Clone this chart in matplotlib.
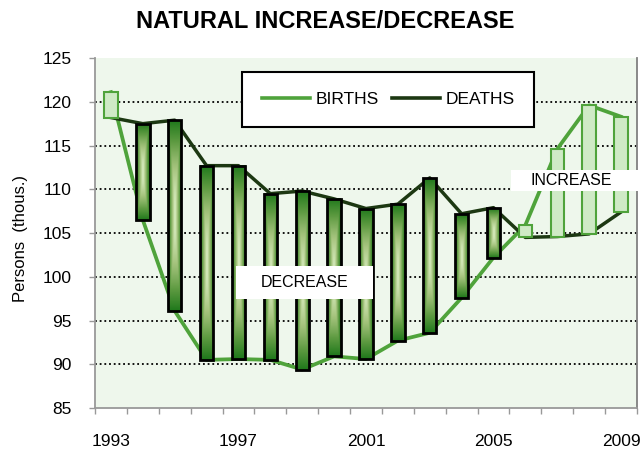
import numpy as np
import matplotlib.pyplot as plt
from matplotlib.colors import LinearSegmentedColormap
from matplotlib.patches import Rectangle
from matplotlib.lines import Line2D

plt.rcParams['font.family'] = ['Liberation Sans', 'DejaVu Sans']

years = list(range(1993, 2010))
births = [121.1, 106.5, 96.1, 90.5, 90.6, 90.5, 89.4, 90.9, 90.6,
          92.7, 93.6, 97.6, 102.2, 105.9, 114.6, 119.6, 118.3]
deaths = [118.2, 117.5, 117.9, 112.7, 112.7, 109.5, 109.8, 108.9, 107.8,
          108.3, 111.3, 107.2, 107.9, 104.5, 104.6, 104.9, 107.4]
year_labels = ["1993", "1997", "2001", "2005", "2009"]
yticks = [85, 90, 95, 100, 105, 110, 115, 120, 125]

birth_color = "#4fa33b"
death_color = "#1c3812"

x = np.arange(len(years))

fig = plt.figure(figsize=(6.44, 4.5), dpi=100)
ax = fig.add_axes([0.1475, 0.0933, 0.8415, 0.7777])
ax.set_facecolor("#eef7ec")

for v in yticks[1:-1]:
    ax.axhline(v, color="black", lw=1.3, ls=(0, (1, 1.6)), zorder=0.5)

ax.plot(x, births, color=birth_color, lw=2.7, solid_joinstyle="round", zorder=2)
ax.plot(x, deaths, color=death_color, lw=2.5, solid_joinstyle="round", zorder=2)

# gradient for decrease bars: dark at the edges, light in the centre
cmap = LinearSegmentedColormap.from_list(
    "dec", ["#d8ecbf", "#a6c47e", "#5f9b42", "#1f781b"])
gx = np.linspace(-1, 1, 40)
gy = np.linspace(-1, 1, 200)
GX, GY = np.meshgrid(gx, gy)
grad = np.clip(np.maximum(np.abs(GX), np.abs(GY) ** 1.5), 0, 1)

w = 0.42
for i in x:
    lo, hi = min(births[i], deaths[i]), max(births[i], deaths[i])
    if births[i] < deaths[i]:
        ax.imshow(grad, cmap=cmap, extent=[i - w / 2, i + w / 2, lo, hi],
                  aspect="auto", origin="lower", zorder=3, interpolation="bilinear")
        ax.add_patch(Rectangle((i - w / 2, lo), w, hi - lo, fill=False,
                               ec="black", lw=2.0, zorder=3.5))
    else:
        ax.add_patch(Rectangle((i - w / 2, lo), w, hi - lo, fc="#cfeac6",
                               ec=birth_color, lw=1.5, zorder=3.5))

ax.set_xlim(-0.5, len(years) - 0.5)
ax.set_ylim(85, 125)

# text boxes
ax.add_patch(Rectangle((3.92, 97.45), 4.29, 3.75, fc="white", ec="none", zorder=5))
ax.text(6.08, 99.3, "DECREASE", ha="center", va="center", fontsize=11.5, zorder=6)
ax.add_patch(Rectangle((12.56, 109.85), 4.1, 2.35, fc="white", ec="none",
                       zorder=5, clip_on=False))
ax.text(14.45, 111.0, "INCREASE", ha="center", va="center", fontsize=11.5, zorder=6)

ax.set_yticks(yticks)
ax.tick_params(axis="y", labelsize=12.5, length=4, width=1, color="#999999", pad=13)
ax.set_xticks(x[::4])
ax.set_xticklabels(year_labels)
ax.set_xticks(np.arange(-0.5, len(years)), minor=True)
ax.tick_params(axis="x", which="major", length=0, labelsize=12.5, pad=19)
ax.tick_params(axis="x", which="minor", length=4, width=1, color="#999999")

for s in ["left", "bottom"]:
    ax.spines[s].set_color("#999999")
    ax.spines[s].set_linewidth(1.3)
ax.spines["right"].set_color("#808080")
ax.spines["right"].set_linewidth(1.3)
ax.spines["top"].set_visible(False)

fig.text(21 / 644, 1 - 238 / 450, "Persons  (thous.)", rotation=90,
         ha="center", va="center", fontsize=12)

handles = [Line2D([], [], color=birth_color, lw=2.6),
           Line2D([], [], color=death_color, lw=2.6)]
leg = ax.legend(handles, ["BIRTHS", "DEATHS"], ncol=2, loc="upper center",
                bbox_to_anchor=(0.5415, 0.96), fontsize=12.5, frameon=True,
                fancybox=False, framealpha=1, borderpad=1.15, handlelength=2.75,
                handletextpad=0.3, columnspacing=0.8, borderaxespad=0)
leg.get_frame().set_edgecolor("black")
leg.get_frame().set_linewidth(1.5)
leg.set_zorder(7)

fig.text(0.505, 1 - 21.5 / 450, "NATURAL INCREASE/DECREASE", fontsize=17,
         fontweight="bold", ha="center", va="center")

fig.savefig("out.png", dpi=100)
